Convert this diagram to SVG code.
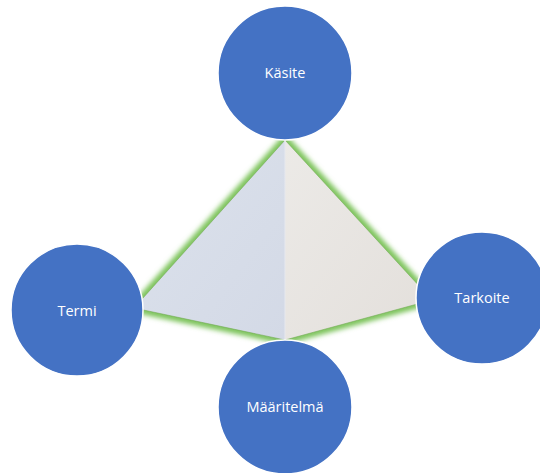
<svg xmlns="http://www.w3.org/2000/svg" width="540" height="473" viewBox="0 0 540 473">
  <defs>
    <filter id="glow" x="-20%" y="-20%" width="140%" height="140%">
      <feGaussianBlur stdDeviation="2.8"/>
    </filter>
    <linearGradient id="leftFace" x1="0" y1="0" x2="1" y2="1">
      <stop offset="0" stop-color="#DCE2EC"/>
      <stop offset="1" stop-color="#D3D9E6"/>
    </linearGradient>
    <linearGradient id="rightFace" x1="0" y1="0" x2="1" y2="1">
      <stop offset="0" stop-color="#ECEAE7"/>
      <stop offset="1" stop-color="#E3DFDB"/>
    </linearGradient>
  </defs>
  <style>
    .node circle { fill: #4472C4; stroke: #FFFFFF; stroke-width: 1.5; }
    .node text { fill: #FFFFFF; font-family: "Open Sans", "Liberation Sans", Arial, sans-serif; font-size: 14.5px; text-anchor: middle; }
  </style>
  <rect width="540" height="473" fill="#FFFFFF"/>
  <g id="pyramid">
    <polygon points="285,140 432,300 285,340 134,308" fill="none" stroke="#7CC35A" stroke-width="9" stroke-linejoin="round" filter="url(#glow)"/>
    <polygon points="285,140 285,340 134,308" fill="url(#leftFace)"/>
    <polygon points="285,140 432,300 285,340" fill="url(#rightFace)"/>
    <polygon points="285,140 432,300 285,340 134,308" fill="none" stroke="#6FA850" stroke-width="1" opacity="0.55"/>
    <line x1="285" y1="140" x2="285" y2="340" stroke="#E6E8EE" stroke-width="1"/>
  </g>
  <g id="connectors"></g>
  <g id="node-kasite" class="node">
    <circle cx="285" cy="73" r="67"/>
    <text x="285" y="78">Käsite</text>
  </g>
  <g id="node-termi" class="node">
    <circle cx="77" cy="310" r="66"/>
    <text x="77" y="316">Termi</text>
  </g>
  <g id="node-tarkoite" class="node">
    <circle cx="482" cy="298" r="66"/>
    <text x="482" y="303">Tarkoite</text>
  </g>
  <g id="node-maaritelma" class="node">
    <circle cx="285" cy="407" r="67"/>
    <text x="285" y="412">Määritelmä</text>
  </g>
</svg>
